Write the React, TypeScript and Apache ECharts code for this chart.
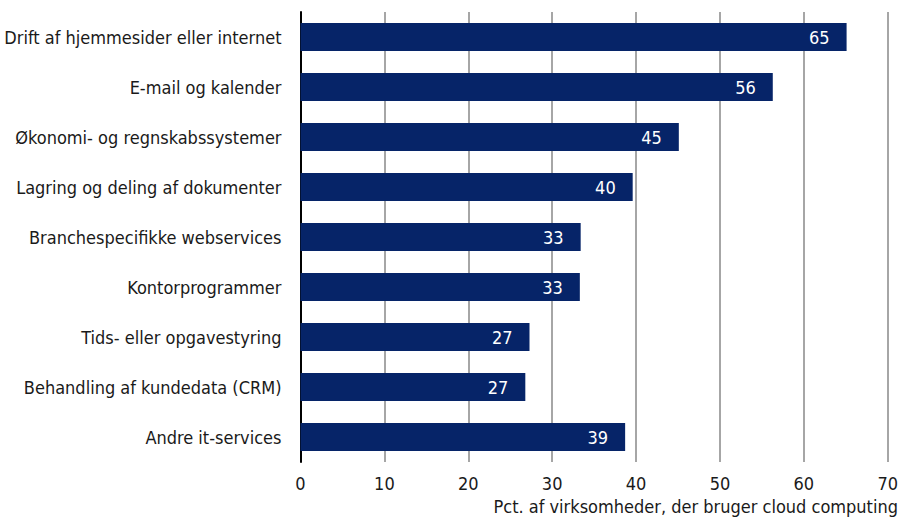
import React, { useEffect, useRef } from "react";
import * as echarts from "echarts";

const categories = [
  "Drift af hjemmesider eller internet",
  "E-mail og kalender",
  "Økonomi- og regnskabssystemer",
  "Lagring og deling af dokumenter",
  "Branchespecifikke webservices",
  "Kontorprogrammer",
  "Tids- eller opgavestyring",
  "Behandling af kundedata (CRM)",
  "Andre it-services",
];
const values = [65.1, 56.3, 45.1, 39.6, 33.4, 33.3, 27.3, 26.8, 38.7];
const xTicks = { min: 0, max: 70, interval: 10 };
const axisTitle = "Pct. af virksomheder, der bruger cloud computing";

const FONT = "'Liberation Sans Narrow', 'DejaVu Sans Condensed', 'Open Sans', sans-serif";

export default function App() {
  const ref = useRef<HTMLDivElement>(null);
  useEffect(() => {
    document.body.style.margin = "0";
    if (!ref.current) return;
    const chart = echarts.init(ref.current, null, { renderer: "svg" });
    chart.setOption({
      animation: false,
      backgroundColor: "#ffffff",
      textStyle: { fontFamily: FONT },
      grid: { left: 300.5, right: 13, top: 12, bottom: 55, containLabel: false },
      xAxis: {
        type: "value",
        min: xTicks.min,
        max: xTicks.max,
        interval: xTicks.interval,
        axisLine: { show: false },
        axisTick: { show: false },
        axisLabel: { color: "#1a1a1a", fontSize: 18, margin: 12, fontFamily: FONT },
        splitLine: { show: true, lineStyle: { color: "#a6a6a6", width: 2 } },
      },
      yAxis: {
        type: "category",
        data: categories,
        inverse: true,
        axisLine: { show: true, lineStyle: { color: "#000000", width: 2 } },
        axisTick: { show: false },
        axisLabel: { color: "#1a1a1a", fontSize: 18, margin: 19, fontFamily: FONT },
        splitLine: { show: false },
      },
      graphic: [
        {
          type: "text",
          right: 3,
          top: 497,
          style: { text: axisTitle, fill: "#1a1a1a", fontSize: 18, fontFamily: FONT },
        },
      ],
      series: [
        {
          type: "bar",
          data: values,
          barWidth: 28,
          itemStyle: { color: "#062468" },
          label: {
            show: true,
            position: "insideRight",
            distance: 17,
            color: "#ffffff",
            fontSize: 18,
            fontFamily: FONT,
            formatter: (p: any) => String(Math.round(p.value)),
          },
        },
      ],
    });
    return () => chart.dispose();
  }, []);
  return <div ref={ref} style={{ width: 901, height: 517 }} />;
}
